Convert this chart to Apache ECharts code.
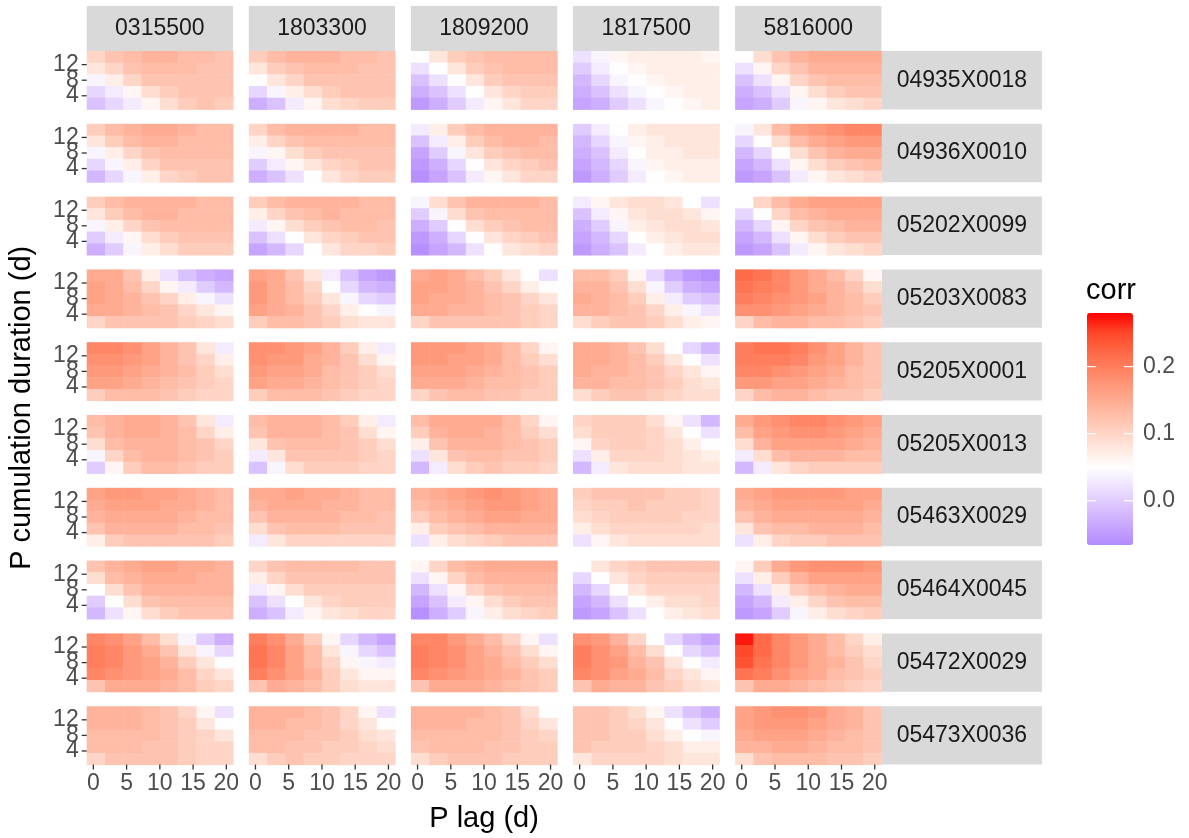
<!DOCTYPE html>
<html><head><meta charset="utf-8">
<script src="https://cdn.jsdelivr.net/npm/echarts@6/dist/echarts.min.js"></script>
<style>html,body{margin:0;padding:0;background:#fff}#c{width:1189px;height:838px}</style>
</head><body><div id="c"></div><script>
// ---------- data ----------
const colStations = ['0315500', '1803300', '1809200', '1817500', '5816000'];
const rowStations = ['04935X0018', '04936X0010', '05202X0099', '05203X0083', '05205X0001',
                     '05205X0013', '05463X0029', '05464X0045', '05472X0029', '05473X0036'];
const lagTicks = [0, 5, 10, 15, 20];
const durTicks = [4, 8, 12];
const corrTicks = [0.0, 0.1, 0.2];
const lagEdges = [-1, 1.75, 4.5, 7.25, 10, 12.75, 15.5, 18.25, 21];
const durEdges = [15.5, 12.5, 9.5, 6.5, 3.5, 0.5];   // top to bottom
const corrRange = [-0.066, 0.28];

// each row station: one block per column station; block rows = duration bins (top -> bottom), cols = lag bins
const corr_04935X0018 = [
 [[0.10,0.12,0.13,0.14,0.14,0.13,0.13,0.12],[0.08,0.10,0.12,0.13,0.13,0.13,0.12,0.12],[0.04,0.07,0.10,0.12,0.12,0.12,0.12,0.12],[0.01,0.03,0.06,0.09,0.11,0.12,0.12,0.12],[-0.01,0.01,0.03,0.06,0.09,0.11,0.12,0.11]],
 [[0.11,0.13,0.14,0.14,0.14,0.13,0.13,0.12],[0.08,0.11,0.12,0.13,0.13,0.13,0.12,0.12],[0.05,0.08,0.10,0.12,0.12,0.12,0.12,0.12],[0.01,0.04,0.07,0.09,0.11,0.12,0.12,0.12],[-0.03,-0.01,0.03,0.06,0.09,0.10,0.11,0.11]],
 [[0.05,0.08,0.11,0.12,0.13,0.13,0.13,0.13],[0.02,0.05,0.08,0.11,0.12,0.13,0.13,0.13],[-0.01,0.02,0.05,0.08,0.11,0.12,0.12,0.12],[-0.03,-0.01,0.02,0.05,0.08,0.10,0.11,0.11],[-0.05,-0.03,0.00,0.03,0.06,0.08,0.10,0.10]],
 [[0.02,0.04,0.06,0.07,0.07,0.07,0.07,0.06],[0.00,0.03,0.05,0.06,0.07,0.07,0.07,0.07],[-0.02,0.01,0.04,0.05,0.06,0.07,0.07,0.07],[-0.03,-0.01,0.02,0.04,0.05,0.06,0.07,0.07],[-0.04,-0.03,0.00,0.02,0.04,0.05,0.06,0.07]],
 [[0.05,0.09,0.12,0.14,0.15,0.15,0.15,0.15],[0.02,0.06,0.10,0.12,0.14,0.14,0.14,0.14],[-0.01,0.02,0.06,0.10,0.12,0.13,0.13,0.13],[-0.03,-0.01,0.02,0.06,0.09,0.11,0.12,0.12],[-0.04,-0.03,0.00,0.04,0.06,0.08,0.09,0.10]]
];
const corr_04936X0010 = [
 [[0.11,0.13,0.14,0.15,0.15,0.14,0.13,0.13],[0.08,0.11,0.13,0.14,0.14,0.13,0.13,0.13],[0.04,0.07,0.10,0.12,0.13,0.13,0.13,0.13],[0.01,0.04,0.07,0.10,0.12,0.12,0.12,0.12],[-0.02,0.01,0.04,0.07,0.10,0.11,0.12,0.12]],
 [[0.10,0.13,0.14,0.14,0.14,0.14,0.13,0.13],[0.07,0.10,0.12,0.13,0.13,0.13,0.13,0.13],[0.04,0.06,0.09,0.11,0.12,0.12,0.12,0.12],[0.00,0.03,0.06,0.08,0.10,0.11,0.12,0.12],[-0.03,-0.01,0.02,0.05,0.08,0.10,0.11,0.11]],
 [[0.03,0.07,0.11,0.13,0.14,0.14,0.14,0.14],[-0.01,0.03,0.07,0.11,0.13,0.14,0.14,0.13],[-0.04,0.00,0.04,0.08,0.11,0.12,0.13,0.13],[-0.05,-0.03,0.01,0.05,0.08,0.10,0.11,0.12],[-0.06,-0.04,-0.01,0.03,0.06,0.08,0.10,0.10]],
 [[0.00,0.03,0.05,0.07,0.08,0.08,0.08,0.08],[-0.02,0.01,0.04,0.06,0.07,0.08,0.08,0.08],[-0.03,-0.01,0.03,0.05,0.07,0.07,0.08,0.08],[-0.04,-0.02,0.01,0.04,0.06,0.07,0.07,0.07],[-0.05,-0.03,0.00,0.03,0.05,0.06,0.07,0.07]],
 [[0.04,0.08,0.13,0.16,0.17,0.18,0.19,0.19],[0.01,0.05,0.09,0.13,0.15,0.16,0.17,0.17],[-0.02,0.01,0.05,0.09,0.12,0.14,0.15,0.15],[-0.04,-0.02,0.02,0.06,0.09,0.11,0.12,0.13],[-0.05,-0.04,-0.01,0.03,0.06,0.08,0.09,0.10]]
];
const corr_05202X0099 = [
 [[0.11,0.13,0.14,0.14,0.14,0.14,0.13,0.13],[0.08,0.11,0.13,0.14,0.14,0.13,0.13,0.13],[0.04,0.07,0.10,0.12,0.13,0.13,0.13,0.13],[0.00,0.03,0.06,0.09,0.11,0.12,0.12,0.12],[-0.03,0.00,0.04,0.07,0.09,0.11,0.11,0.11]],
 [[0.11,0.13,0.14,0.14,0.14,0.14,0.13,0.13],[0.07,0.10,0.12,0.13,0.14,0.13,0.13,0.13],[0.03,0.06,0.09,0.11,0.12,0.13,0.13,0.12],[-0.01,0.02,0.05,0.08,0.10,0.11,0.12,0.12],[-0.04,-0.02,0.01,0.05,0.08,0.10,0.10,0.11]],
 [[0.04,0.09,0.12,0.14,0.14,0.14,0.14,0.13],[0.00,0.04,0.09,0.12,0.13,0.13,0.13,0.13],[-0.03,0.00,0.05,0.09,0.11,0.12,0.13,0.13],[-0.05,-0.03,0.01,0.05,0.08,0.10,0.11,0.12],[-0.06,-0.04,-0.02,0.02,0.05,0.08,0.09,0.10]],
 [[0.03,0.06,0.08,0.09,0.09,0.08,0.05,0.02],[-0.01,0.03,0.06,0.08,0.09,0.09,0.08,0.06],[-0.03,0.00,0.04,0.07,0.08,0.09,0.09,0.08],[-0.04,-0.02,0.01,0.05,0.07,0.08,0.09,0.09],[-0.05,-0.03,-0.01,0.03,0.05,0.07,0.08,0.08]],
 [[0.05,0.10,0.13,0.15,0.16,0.16,0.16,0.16],[0.01,0.05,0.10,0.13,0.14,0.15,0.15,0.15],[-0.02,0.01,0.06,0.10,0.12,0.13,0.14,0.14],[-0.04,-0.02,0.02,0.06,0.09,0.11,0.12,0.12],[-0.05,-0.04,-0.01,0.03,0.06,0.08,0.09,0.10]]
];
const corr_05203X0083 = [
 [[0.15,0.15,0.12,0.07,0.02,-0.01,-0.03,-0.04],[0.16,0.15,0.13,0.10,0.06,0.03,0.00,-0.02],[0.16,0.15,0.14,0.12,0.10,0.07,0.04,0.02],[0.15,0.15,0.14,0.13,0.12,0.10,0.08,0.06],[0.10,0.12,0.12,0.12,0.12,0.11,0.10,0.09]],
 [[0.16,0.15,0.12,0.08,0.03,-0.01,-0.04,-0.05],[0.17,0.15,0.13,0.10,0.05,0.01,-0.02,-0.03],[0.17,0.15,0.13,0.11,0.08,0.04,0.01,0.00],[0.16,0.15,0.14,0.12,0.10,0.07,0.05,0.04],[0.11,0.13,0.13,0.12,0.11,0.09,0.08,0.08]],
 [[0.15,0.16,0.15,0.13,0.11,0.08,0.05,0.02],[0.16,0.16,0.15,0.14,0.12,0.10,0.07,0.05],[0.16,0.15,0.15,0.14,0.13,0.12,0.10,0.08],[0.15,0.15,0.14,0.14,0.13,0.12,0.11,0.10],[0.10,0.12,0.12,0.12,0.12,0.12,0.11,0.10]],
 [[0.13,0.13,0.11,0.06,0.01,-0.03,-0.05,-0.06],[0.14,0.14,0.12,0.09,0.04,0.00,-0.03,-0.04],[0.15,0.14,0.13,0.11,0.07,0.03,0.00,-0.01],[0.14,0.14,0.13,0.12,0.10,0.07,0.04,0.02],[0.09,0.11,0.12,0.12,0.11,0.09,0.07,0.06]],
 [[0.22,0.21,0.19,0.17,0.15,0.13,0.10,0.06],[0.21,0.20,0.19,0.17,0.15,0.14,0.12,0.09],[0.20,0.19,0.18,0.17,0.16,0.14,0.13,0.11],[0.18,0.18,0.17,0.16,0.15,0.14,0.13,0.12],[0.10,0.13,0.14,0.14,0.13,0.13,0.12,0.11]]
];
const corr_05205X0001 = [
 [[0.19,0.19,0.18,0.16,0.14,0.12,0.08,0.03],[0.18,0.18,0.17,0.16,0.14,0.12,0.10,0.07],[0.17,0.17,0.16,0.15,0.14,0.13,0.11,0.09],[0.16,0.16,0.15,0.14,0.13,0.12,0.11,0.10],[0.11,0.13,0.13,0.13,0.12,0.11,0.10,0.10]],
 [[0.18,0.18,0.17,0.16,0.14,0.11,0.07,0.03],[0.18,0.17,0.17,0.15,0.14,0.12,0.09,0.06],[0.17,0.16,0.16,0.15,0.13,0.12,0.11,0.09],[0.16,0.15,0.15,0.14,0.13,0.12,0.11,0.10],[0.11,0.13,0.13,0.13,0.12,0.11,0.10,0.10]],
 [[0.17,0.17,0.17,0.16,0.15,0.13,0.10,0.06],[0.17,0.17,0.16,0.16,0.15,0.13,0.11,0.09],[0.16,0.16,0.16,0.15,0.14,0.13,0.12,0.11],[0.15,0.15,0.15,0.14,0.13,0.13,0.12,0.11],[0.10,0.12,0.13,0.13,0.12,0.12,0.11,0.11]],
 [[0.15,0.15,0.14,0.12,0.09,0.05,0.01,-0.02],[0.15,0.15,0.14,0.13,0.11,0.08,0.05,0.02],[0.15,0.14,0.14,0.13,0.12,0.10,0.08,0.06],[0.14,0.14,0.13,0.13,0.12,0.11,0.09,0.08],[0.09,0.11,0.12,0.12,0.11,0.10,0.09,0.09]],
 [[0.20,0.21,0.21,0.20,0.18,0.16,0.14,0.12],[0.20,0.20,0.20,0.19,0.17,0.16,0.14,0.12],[0.19,0.19,0.18,0.17,0.16,0.15,0.13,0.12],[0.17,0.17,0.16,0.16,0.15,0.14,0.13,0.12],[0.10,0.13,0.14,0.14,0.13,0.12,0.12,0.11]]
];
const corr_05205X0013 = [
 [[0.13,0.14,0.15,0.15,0.14,0.12,0.08,0.03],[0.12,0.14,0.15,0.15,0.14,0.13,0.10,0.07],[0.09,0.13,0.14,0.14,0.14,0.13,0.12,0.10],[0.04,0.10,0.13,0.14,0.14,0.13,0.12,0.11],[0.00,0.06,0.11,0.13,0.13,0.12,0.11,0.11]],
 [[0.13,0.14,0.14,0.14,0.13,0.11,0.07,0.03],[0.12,0.14,0.14,0.14,0.13,0.12,0.09,0.06],[0.08,0.12,0.13,0.13,0.13,0.12,0.11,0.09],[0.03,0.08,0.12,0.12,0.12,0.12,0.11,0.10],[-0.01,0.04,0.09,0.11,0.11,0.11,0.10,0.10]],
 [[0.13,0.15,0.15,0.15,0.15,0.13,0.10,0.06],[0.11,0.14,0.15,0.15,0.14,0.13,0.11,0.09],[0.07,0.12,0.14,0.14,0.14,0.13,0.12,0.11],[0.02,0.08,0.12,0.13,0.13,0.12,0.12,0.11],[-0.02,0.03,0.09,0.11,0.12,0.11,0.11,0.10]],
 [[0.10,0.11,0.11,0.11,0.09,0.06,0.02,-0.02],[0.09,0.11,0.11,0.11,0.10,0.08,0.05,0.02],[0.06,0.10,0.11,0.11,0.10,0.09,0.07,0.05],[0.02,0.07,0.10,0.10,0.10,0.09,0.08,0.07],[-0.02,0.03,0.08,0.09,0.09,0.09,0.08,0.08]],
 [[0.15,0.17,0.18,0.19,0.19,0.18,0.17,0.16],[0.13,0.16,0.17,0.18,0.18,0.17,0.16,0.15],[0.09,0.14,0.16,0.16,0.16,0.16,0.15,0.14],[0.03,0.09,0.13,0.14,0.14,0.14,0.13,0.13],[-0.02,0.03,0.08,0.10,0.11,0.11,0.11,0.11]]
];
const corr_05463X0029 = [
 [[0.16,0.17,0.17,0.16,0.16,0.15,0.14,0.13],[0.15,0.16,0.16,0.16,0.15,0.15,0.14,0.13],[0.14,0.15,0.15,0.15,0.15,0.14,0.13,0.13],[0.12,0.14,0.14,0.14,0.14,0.13,0.13,0.12],[0.07,0.11,0.12,0.12,0.12,0.12,0.12,0.11]],
 [[0.15,0.15,0.16,0.15,0.15,0.14,0.13,0.13],[0.14,0.15,0.15,0.15,0.14,0.14,0.13,0.13],[0.12,0.14,0.14,0.14,0.14,0.13,0.13,0.12],[0.09,0.12,0.13,0.13,0.13,0.12,0.12,0.12],[0.03,0.08,0.10,0.10,0.10,0.10,0.10,0.10]],
 [[0.14,0.15,0.16,0.17,0.18,0.17,0.16,0.15],[0.13,0.14,0.15,0.16,0.17,0.17,0.16,0.15],[0.11,0.13,0.14,0.15,0.16,0.16,0.15,0.15],[0.07,0.11,0.12,0.13,0.14,0.14,0.14,0.14],[0.02,0.07,0.09,0.10,0.11,0.12,0.12,0.12]],
 [[0.11,0.12,0.12,0.12,0.12,0.11,0.11,0.10],[0.10,0.11,0.11,0.12,0.11,0.11,0.11,0.10],[0.09,0.10,0.11,0.11,0.11,0.11,0.10,0.10],[0.07,0.09,0.10,0.10,0.10,0.10,0.10,0.09],[0.02,0.06,0.08,0.09,0.09,0.09,0.09,0.09]],
 [[0.15,0.16,0.17,0.17,0.17,0.17,0.16,0.16],[0.14,0.15,0.16,0.16,0.16,0.16,0.16,0.15],[0.12,0.14,0.15,0.15,0.15,0.15,0.15,0.14],[0.08,0.12,0.13,0.13,0.14,0.14,0.14,0.13],[0.02,0.07,0.10,0.11,0.11,0.12,0.12,0.12]]
];
const corr_05464X0045 = [
 [[0.12,0.14,0.15,0.16,0.16,0.15,0.15,0.14],[0.09,0.13,0.14,0.15,0.15,0.15,0.14,0.14],[0.05,0.09,0.12,0.14,0.14,0.14,0.14,0.14],[0.00,0.05,0.09,0.12,0.13,0.13,0.13,0.13],[-0.02,0.02,0.06,0.09,0.11,0.12,0.12,0.12]],
 [[0.10,0.12,0.13,0.13,0.13,0.13,0.12,0.12],[0.07,0.10,0.12,0.12,0.12,0.12,0.12,0.12],[0.03,0.06,0.09,0.11,0.11,0.11,0.11,0.11],[-0.01,0.02,0.05,0.08,0.10,0.11,0.11,0.11],[-0.03,-0.01,0.03,0.06,0.08,0.09,0.10,0.10]],
 [[0.06,0.10,0.13,0.14,0.15,0.15,0.15,0.15],[0.02,0.06,0.10,0.13,0.14,0.14,0.14,0.14],[-0.02,0.02,0.06,0.10,0.12,0.13,0.13,0.13],[-0.04,-0.01,0.03,0.06,0.09,0.11,0.12,0.12],[-0.06,-0.03,0.00,0.04,0.07,0.09,0.10,0.11]],
 [[0.05,0.08,0.10,0.11,0.12,0.12,0.12,0.12],[0.01,0.05,0.08,0.10,0.11,0.11,0.11,0.11],[-0.02,0.01,0.05,0.08,0.10,0.10,0.10,0.10],[-0.04,-0.02,0.02,0.05,0.07,0.09,0.09,0.10],[-0.05,-0.04,-0.01,0.02,0.05,0.07,0.08,0.09]],
 [[0.06,0.11,0.15,0.17,0.18,0.18,0.18,0.17],[0.02,0.07,0.11,0.14,0.16,0.16,0.16,0.16],[-0.02,0.02,0.07,0.11,0.13,0.14,0.15,0.15],[-0.04,-0.02,0.03,0.07,0.10,0.12,0.13,0.13],[-0.05,-0.04,0.00,0.04,0.07,0.09,0.10,0.11]]
];
const corr_05472X0029 = [
 [[0.19,0.18,0.16,0.13,0.09,0.04,0.00,-0.03],[0.20,0.19,0.17,0.15,0.12,0.08,0.04,0.01],[0.20,0.19,0.17,0.16,0.14,0.11,0.08,0.05],[0.19,0.18,0.17,0.16,0.15,0.13,0.10,0.08],[0.12,0.15,0.15,0.15,0.14,0.13,0.11,0.10]],
 [[0.20,0.18,0.15,0.11,0.06,0.01,-0.02,-0.04],[0.21,0.19,0.16,0.13,0.08,0.04,0.01,-0.01],[0.21,0.19,0.16,0.13,0.10,0.06,0.04,0.03],[0.20,0.18,0.16,0.14,0.11,0.08,0.06,0.06],[0.12,0.15,0.14,0.13,0.11,0.09,0.08,0.08]],
 [[0.19,0.19,0.17,0.15,0.13,0.10,0.06,0.02],[0.20,0.19,0.18,0.16,0.14,0.12,0.09,0.06],[0.20,0.19,0.18,0.16,0.15,0.13,0.11,0.09],[0.19,0.18,0.17,0.16,0.15,0.14,0.12,0.11],[0.12,0.15,0.15,0.15,0.14,0.13,0.12,0.11]],
 [[0.18,0.17,0.14,0.10,0.05,0.01,-0.02,-0.04],[0.20,0.18,0.16,0.13,0.09,0.05,0.01,-0.01],[0.20,0.18,0.17,0.14,0.12,0.08,0.05,0.03],[0.19,0.18,0.16,0.15,0.13,0.10,0.08,0.06],[0.12,0.15,0.14,0.14,0.12,0.11,0.09,0.08]],
 [[0.27,0.22,0.19,0.17,0.15,0.13,0.10,0.07],[0.25,0.22,0.19,0.17,0.15,0.13,0.11,0.09],[0.24,0.21,0.19,0.17,0.15,0.14,0.12,0.10],[0.21,0.20,0.18,0.16,0.15,0.13,0.12,0.11],[0.12,0.15,0.15,0.14,0.13,0.12,0.11,0.10]]
];
const corr_05473X0036 = [
 [[0.14,0.14,0.14,0.13,0.12,0.10,0.06,0.02],[0.14,0.14,0.14,0.13,0.12,0.11,0.08,0.05],[0.13,0.13,0.13,0.13,0.12,0.11,0.10,0.08],[0.13,0.13,0.13,0.12,0.12,0.11,0.10,0.10],[0.10,0.12,0.12,0.12,0.12,0.11,0.10,0.10]],
 [[0.14,0.14,0.14,0.13,0.12,0.10,0.06,0.02],[0.14,0.14,0.13,0.13,0.12,0.10,0.08,0.05],[0.13,0.13,0.13,0.12,0.12,0.11,0.09,0.08],[0.13,0.13,0.12,0.12,0.11,0.11,0.10,0.09],[0.09,0.11,0.12,0.11,0.11,0.10,0.10,0.10]],
 [[0.14,0.14,0.14,0.14,0.13,0.12,0.09,0.05],[0.14,0.14,0.14,0.13,0.13,0.12,0.10,0.08],[0.13,0.13,0.13,0.13,0.13,0.12,0.11,0.10],[0.12,0.13,0.13,0.13,0.12,0.12,0.11,0.11],[0.09,0.11,0.12,0.12,0.12,0.11,0.11,0.11]],
 [[0.12,0.12,0.11,0.09,0.06,0.02,-0.01,-0.03],[0.12,0.12,0.11,0.10,0.08,0.05,0.02,0.00],[0.12,0.12,0.11,0.11,0.09,0.07,0.05,0.04],[0.12,0.11,0.11,0.11,0.10,0.09,0.07,0.07],[0.08,0.10,0.10,0.10,0.10,0.09,0.08,0.08]],
 [[0.16,0.17,0.18,0.18,0.17,0.15,0.14,0.12],[0.16,0.17,0.17,0.17,0.16,0.15,0.14,0.12],[0.15,0.16,0.16,0.16,0.15,0.14,0.13,0.12],[0.14,0.14,0.15,0.15,0.14,0.13,0.13,0.12],[0.09,0.12,0.13,0.13,0.13,0.12,0.12,0.11]]
];
const rowData = [corr_04935X0018, corr_04936X0010, corr_05202X0099, corr_05203X0083, corr_05205X0001,
                 corr_05205X0013, corr_05463X0029, corr_05464X0045, corr_05472X0029, corr_05473X0036];

// ---------- layout ----------
const FONT = '"Liberation Sans", Arial, Helvetica, sans-serif';
const X0 = 86.7, PX = 162.1, PW = 146.3;
const Y0 = 51, PY = 72.8, PH = 58.4;
const STRIP_TOP = 6, STRIP_H = 45, RSTRIP_W = 160;
const TICK_LEN = 5;
const NC = colStations.length, NR = rowStations.length;

const grids = [], xAxes = [], yAxes = [], series = [], graphics = [];

function renderCell(params, api) {
  const a = api.coord([api.value(0), api.value(2)]);
  const b = api.coord([api.value(1), api.value(3)]);
  return {
    type: 'rect',
    shape: { x: a[0], y: a[1], width: b[0] - a[0] + 0.5, height: b[1] - a[1] + 0.5 },
    style: { fill: api.visual('color') }
  };
}

let gi = 0;
for (let r = 0; r < NR; r++) {
  for (let c = 0; c < NC; c++) {
    const left = X0 + c * PX, top = Y0 + r * PY;
    grids.push({ left: left, top: top, width: PW, height: PH, containLabel: false });
    xAxes.push({ type: 'value', gridIndex: gi, min: lagEdges[0], max: lagEdges[lagEdges.length - 1], show: false });
    yAxes.push({ type: 'value', gridIndex: gi, min: durEdges[durEdges.length - 1], max: durEdges[0], show: false });
    const block = rowData[r][c];
    const data = [];
    for (let i = 0; i < block.length; i++) {
      for (let j = 0; j < block[i].length; j++) {
        data.push([lagEdges[j], lagEdges[j + 1], durEdges[i], durEdges[i + 1], block[i][j]]);
      }
    }
    series.push({
      type: 'custom', xAxisIndex: gi, yAxisIndex: gi, renderItem: renderCell,
      encode: { x: [0, 1], y: [2, 3] }, data: data, silent: true, animation: false
    });
    if (c === NC - 1) {
      graphics.push({ type: 'rect', shape: { x: left + PW + 0.5, y: top, width: RSTRIP_W, height: PH }, style: { fill: '#D9D9D9' } });
      graphics.push({ type: 'text', x: left + PW + 0.5 + RSTRIP_W / 2, y: top + PH / 2,
        style: { text: rowStations[r], fill: '#1A1A1A', font: '23px ' + FONT, textAlign: 'center', textVerticalAlign: 'middle' } });
    }
    gi++;
  }
}
for (let c = 0; c < NC; c++) {
  const left = X0 + c * PX;
  graphics.push({ type: 'rect', shape: { x: left, y: STRIP_TOP, width: PW, height: STRIP_H }, style: { fill: '#D9D9D9' } });
  graphics.push({ type: 'text', x: left + PW / 2, y: STRIP_TOP + STRIP_H / 2,
    style: { text: colStations[c], fill: '#1A1A1A', font: '23px ' + FONT, textAlign: 'center', textVerticalAlign: 'middle' } });
}
const panelsRight = X0 + (NC - 1) * PX + PW;
const panelsBottom = Y0 + (NR - 1) * PY + PH;
graphics.push({ type: 'text', x: (X0 + panelsRight) / 2, y: 819,
  style: { text: 'P lag (d)', fill: '#000', font: '29px ' + FONT, textAlign: 'center', textVerticalAlign: 'middle' } });
graphics.push({ type: 'text', x: 22, y: (Y0 + panelsBottom) / 2, rotation: Math.PI / 2,
  style: { text: 'P cumulation duration (d)', fill: '#000', font: '29px ' + FONT, textAlign: 'center', textVerticalAlign: 'middle' } });
graphics.push({ type: 'text', x: 1086, y: 291,
  style: { text: 'corr', fill: '#000', font: '29px ' + FONT, textAlign: 'left', textVerticalAlign: 'middle' } });

// legend grid (colour bar scale)
const LEG = { left: 1087, top: 313, width: 46, height: 232 };
const legIdx = gi;
grids.push({ left: LEG.left, top: LEG.top, width: LEG.width, height: LEG.height });
xAxes.push({ type: 'value', gridIndex: legIdx, show: false, min: 0, max: 1 });
yAxes.push({ type: 'value', gridIndex: legIdx, show: false, min: corrRange[0], max: corrRange[1] });

const chart = echarts.init(document.getElementById('c'), null, { renderer: 'canvas' });
const baseOption = {
  animation: false,
  backgroundColor: '#FFFFFF',
  grid: grids, xAxis: xAxes, yAxis: yAxes, series: series,
  visualMap: {
    type: 'continuous', min: corrRange[0], max: corrRange[1], dimension: 4,
    seriesIndex: series.map((s, i) => i),
    orient: 'vertical', left: LEG.left, top: LEG.top, itemWidth: LEG.width, itemHeight: LEG.height,
    padding: 0, calculable: false, hoverLink: false, z: 2,
    inRange: { color: ['#B28AFF','#C8A7FF','#DBC4FF','#EEE1FF','#FFFFFF','#FFE8DF','#FFCFBF','#FFB7A0','#FF9E81','#FF8464','#FF6846','#FF4628','#FF0000'] }
  },
  graphic: graphics
};
chart.setOption(baseOption);

// ticks and tick labels, placed through the axes' own scales
const tickStyle = { stroke: '#333333', lineWidth: 1.3 };
for (let r = 0; r < NR; r++) {
  const idx = r * NC; // left column
  durTicks.forEach(v => {
    const p = chart.convertToPixel({ xAxisIndex: idx, yAxisIndex: idx }, [lagEdges[0], v]);
    graphics.push({ type: 'line', z: 50, shape: { x1: p[0] - TICK_LEN, y1: p[1], x2: p[0], y2: p[1] }, style: tickStyle });
    graphics.push({ type: 'text', z: 50, x: p[0] - TICK_LEN - 3, y: p[1],
      style: { text: String(v), fill: '#4D4D4D', font: '23px ' + FONT, textAlign: 'right', textVerticalAlign: 'middle' } });
  });
}
for (let c = 0; c < NC; c++) {
  const idx = (NR - 1) * NC + c; // bottom row
  lagTicks.forEach(v => {
    const p = chart.convertToPixel({ xAxisIndex: idx, yAxisIndex: idx }, [v, durEdges[durEdges.length - 1]]);
    graphics.push({ type: 'line', z: 50, shape: { x1: p[0], y1: p[1], x2: p[0], y2: p[1] + TICK_LEN }, style: tickStyle });
    graphics.push({ type: 'text', z: 50, x: p[0], y: p[1] + TICK_LEN + 3,
      style: { text: String(v), fill: '#4D4D4D', font: '23px ' + FONT, textAlign: 'center', textVerticalAlign: 'top' } });
  });
}
corrTicks.forEach(v => {
  const p = chart.convertToPixel({ xAxisIndex: legIdx, yAxisIndex: legIdx }, [0, v]);
  const q = chart.convertToPixel({ xAxisIndex: legIdx, yAxisIndex: legIdx }, [1, v]);
  graphics.push({ type: 'line', z: 50, shape: { x1: p[0], y1: p[1], x2: p[0] + 9, y2: p[1] }, style: { stroke: '#FFFFFF', lineWidth: 1.2 } });
  graphics.push({ type: 'line', z: 50, shape: { x1: q[0] - 9, y1: q[1], x2: q[0], y2: q[1] }, style: { stroke: '#FFFFFF', lineWidth: 1.2 } });
  graphics.push({ type: 'text', z: 50, x: q[0] + 10, y: q[1],
    style: { text: v.toFixed(1), fill: '#4D4D4D', font: '23px ' + FONT, textAlign: 'left', textVerticalAlign: 'middle' } });
});
chart.setOption({ graphic: graphics });
</script></body></html>
